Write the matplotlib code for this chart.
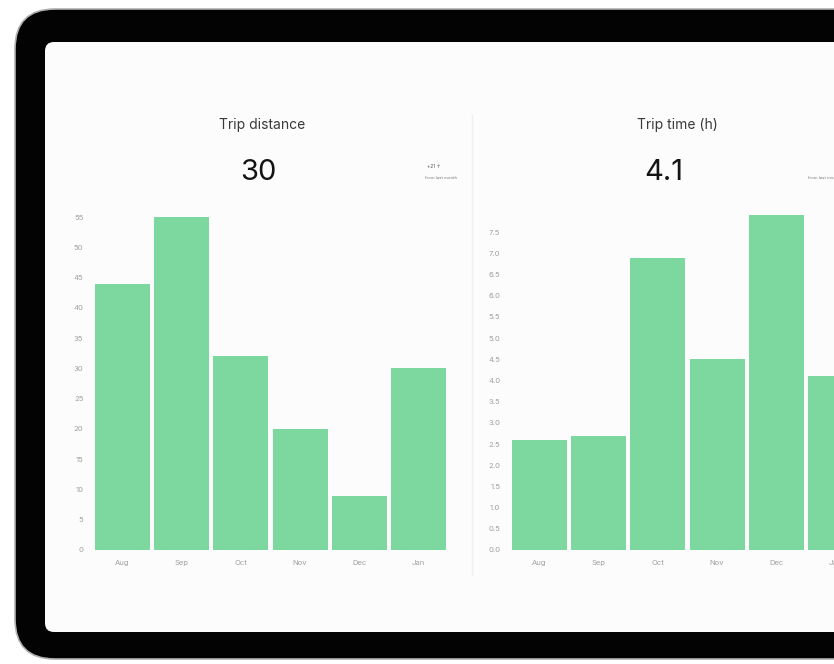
"""
タブレット上のダッシュボード（Trip distance / Trip time）を再現
"""

import matplotlib
matplotlib.use('Agg')
import matplotlib.pyplot as plt
from matplotlib.patches import FancyBboxPatch
import numpy as np

plt.rcParams['font.family'] = ['Inter', 'DejaVu Sans']

W, H = 834, 664

# データ
months = ['Aug', 'Sep', 'Oct', 'Nov', 'Dec', 'Jan']
distance = [44, 55, 32, 20, 9, 30]
trip_time = [2.6, 2.7, 6.9, 4.5, 7.9, 4.1]
distance_ticks = np.arange(0, 56, 5)
time_ticks = np.arange(0, 7.6, 0.5)

BAR_COLOR = '#7dd8a0'
TICK_COLOR = '#a0a0a0'


def px(x, y):
    """ピクセル座標 → figure座標"""
    return x / W, 1 - y / H


fig = plt.figure(figsize=(W / 100, H / 100), dpi=100)
fig.patch.set_facecolor('white')

# 背景（タブレット本体）
bg = fig.add_axes([0, 0, 1, 1], zorder=0)
bg.set_xlim(0, W)
bg.set_ylim(H, 0)
bg.axis('off')
bg.add_patch(FancyBboxPatch((15, 9), 900, 650,
                            boxstyle='round,pad=0,rounding_size=40',
                            facecolor='#030303', edgecolor='#b0b0b0', linewidth=1.2))
bg.add_patch(FancyBboxPatch((45, 42), 900, 590,
                            boxstyle='round,pad=0,rounding_size=9',
                            facecolor='#fcfcfc', edgecolor='none'))
# 区切り線
bg.plot([472, 472], [115, 575], color='#efefef', linewidth=1)


def draw_chart(left_px, values, ticks, ylim, fmt):
    ax = fig.add_axes([left_px / W, (H - 550) / H, 355 / W, (550 - 211) / H], zorder=2)
    ax.set_facecolor('none')
    ax.bar(range(len(months)), values, width=0.93, color=BAR_COLOR)
    ax.set_xlim(-0.5, 5.5)
    ax.set_ylim(*ylim)
    ax.set_yticks(ticks)
    ax.set_yticklabels([fmt.format(t) for t in ticks])
    ax.set_xticks(range(len(months)))
    ax.set_xticklabels(months)
    for s in ax.spines.values():
        s.set_visible(False)
    ax.tick_params(axis='y', length=0, pad=7, labelsize=5.5, labelcolor=TICK_COLOR)
    ax.tick_params(axis='x', length=0, pad=7, labelsize=5.5, labelcolor=TICK_COLOR)
    return ax


draw_chart(93, distance, distance_ticks, (0, 56), '{:.0f}')
draw_chart(510, trip_time, time_ticks, (0, 8), '{:.1f}')

# タイトル・KPI
fig.text(*px(262, 125), 'Trip distance', ha='center', va='center',
         fontsize=10, color='#3a3a3a')
fig.text(*px(258, 172), '30', ha='center', va='center', fontsize=21, color='#141414')
fig.text(*px(441, 166), '+21 ↑', ha='right', va='center', fontsize=3.5, color='#555555')
fig.text(*px(457, 178), 'from last month', ha='right', va='center', fontsize=3, color='#777777')

fig.text(*px(677, 125), 'Trip time (h)', ha='center', va='center',
         fontsize=10, color='#3a3a3a')
fig.text(*px(664, 172), '4.1', ha='center', va='center', fontsize=21, color='#141414')
fig.text(*px(808, 178), 'from last month', ha='left', va='center', fontsize=3, color='#777777')

plt.savefig('out.png', dpi=100)
